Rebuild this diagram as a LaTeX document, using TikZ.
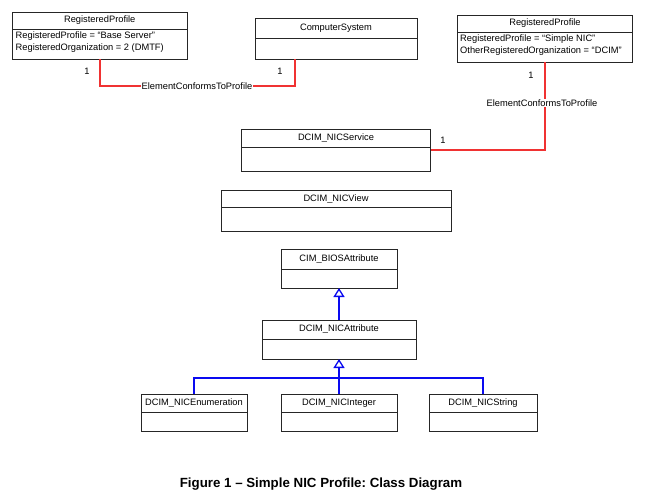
\documentclass[tikz,border=0pt]{standalone}
\usepackage{fontspec}
\setmainfont{Liberation Sans}
\usetikzlibrary{arrows.meta}
\definecolor{assocred}{RGB}{240,50,50}
\definecolor{genblue}{RGB}{10,10,240}
\frenchspacing
\newcommand{\fs}{\fontsize{9.3}{12}\selectfont}
\newcommand{\umlclass}[7]{% name, x1, y1, x2, y2, ydiv, title
  \node[classbox, minimum width={(#4-#2)*1pt}, minimum height={(#5-#3)*1pt}] (#1) at ({(#2+#4)/2},{(#3+#5)/2}) {};
  \draw[classline] (#1.west |- 0,#6) -- (#1.east |- 0,#6);
  \node[classtext] (#1-title) at ({(#2+#4)/2},{(#3+#6)/2}) {#7};
}
\begin{document}
\begin{tikzpicture}[x=1pt,y=-1pt,
  classbox/.style={draw=black!85, line width=1pt, inner sep=0pt, outer sep=0pt, fill=white},
  classline/.style={draw=black!85, line width=1pt},
  classtext/.style={font=\fs, inner sep=1pt},
  attrtext/.style={font=\fs, inner sep=1pt, align=left, anchor=west},
  assoc/.style={draw=assocred, line width=1.3pt},
  assoclabel/.style={font=\fs, fill=white, inner sep=1pt},
  mult/.style={font=\fs, inner sep=1pt},
  genline/.style={draw=genblue, line width=1.3pt},
  gen/.style={genline, -{Triangle[open, length=9pt, width=11pt, fill=white]}}
]
\useasboundingbox (0,0) rectangle (648,499);

% classes
\umlclass{rp1}{12.5}{12}{187}{59}{29}{RegisteredProfile}
\node[attrtext] (rp1-attr) at (14.5,42) {RegisteredProfile = “Base Server”\\RegisteredOrganization = 2 (DMTF)};

\umlclass{cs}{255}{18}{417}{59}{38.5}{ComputerSystem}

\umlclass{rp2}{457.5}{15}{632.5}{62}{32}{RegisteredProfile}
\node[attrtext] (rp2-attr) at (459,45) {RegisteredProfile = “Simple NIC”\\OtherRegisteredOrganization = “DCIM”};

\umlclass{ns}{241.5}{129}{430.5}{171}{147}{DCIM\_NICService}
\umlclass{nv}{221}{190}{451}{231}{207.5}{DCIM\_NICView}
\umlclass{bios}{281}{249}{397}{288}{269}{CIM\_BIOSAttribute}
\umlclass{attr}{262}{320}{416}{359}{339}{DCIM\_NICAttribute}
\umlclass{enum}{141}{394}{247}{431}{412}{DCIM\_NICEnumeration}
\umlclass{int}{281}{394}{397}{431}{412}{DCIM\_NICInteger}
\umlclass{str}{429}{394}{537}{431}{412}{DCIM\_NICString}

% associations
\draw[assoc] ([xshift=87.5pt]rp1.south west) -- ++(0,27) -| ([xshift=40pt]cs.south west);
\node[assoclabel] (ecp1) at (197,86) {ElementConformsToProfile};
\node[mult] (m1) at (87,71) {1};
\node[mult] (m2) at (280,71) {1};

\draw[assoc] ([xshift=87.5pt]rp2.south west) |- (ns.east);
\node[assoclabel] (ecp2) at (542,103) {ElementConformsToProfile};
\node[mult] (m3) at (531,75) {1};
\node[mult] (m4) at (443,140) {1};

% generalizations
\draw[gen] (attr.north) -- (bios.south);
\coordinate (bus) at (339,378);
\draw[genline] (enum.north) |- (bus) -| (str.north);
\draw[gen] (int.north) -- (attr.south);

% caption
\node[font=\bfseries\fontsize{13.3}{16}\selectfont, inner sep=0pt] (caption) at (321,484) {Figure 1 – Simple NIC Profile: Class Diagram};
\end{tikzpicture}
\end{document}
